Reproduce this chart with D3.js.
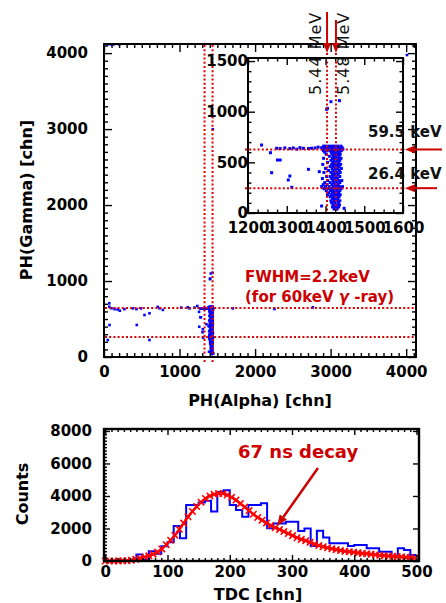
<!DOCTYPE html>
<html>
<head>
<meta charset="utf-8">
<script src="https://cdn.jsdelivr.net/npm/d3@7"></script>
<style>
body { margin: 0; background: #fff; }
svg { display: block; }
</style>
</head>
<body>
<svg id="chart" width="446" height="603"></svg>
<script>
// ---- scatter data: PH(Alpha), PH(Gamma) [chn]
const scatterPoints = [
    [46, 4115], [90, 4115], [130, 4115], [200, 4115], [4010, 3975],
    [70, 707], [70, 662], [100, 641], [140, 630], [180, 625], [210, 610], [270, 630],
    [73, 421], [50, 224], [380, 640], [430, 630], [490, 640], [536, 553], [602, 575],
    [434, 421], [602, 224], [712, 660], [735, 640], [779, 620], [1022, 650], [1110, 655],
    [1132, 640], [1198, 650], [1440, 2997], [1705, 640], [2257, 632], [2764, 654],
    [1235, 671], [1258, 595], [1274, 639], [1283, 636], [1295, 642], [1308, 636],
    [1317, 642], [1326, 630], [1334, 645], [1343, 639], [1356, 636], [1364, 639],
    [1373, 642], [1381, 650], [1276, 523], [1283, 523], [1261, 398], [1308, 365],
    [1304, 326], [1313, 254], [1356, 431], [1384, 408], [1390, 69], [1405, 1033],
    [1414, 1099], [1436, 1109], [1448, 46], [1403, 1024]
];
// dense alpha band, one row per gamma level
const bandRows = [
    [660, [1395, 1402, 1410, 1418, 1425, 1432, 1440]],
    [645, [1390, 1398, 1405, 1412, 1420, 1428, 1435, 1443]],
    [630, [1392, 1400, 1408, 1415, 1422, 1430, 1437, 1445]],
    [615, [1395, 1404, 1412, 1419, 1427, 1434, 1441]],
    [600, [1398, 1415, 1421, 1428, 1436]],
    [580, [1402, 1417, 1424, 1431, 1438]],
    [560, [1410, 1420, 1427, 1435]],
    [540, [1395, 1418, 1425, 1433, 1440]],
    [520, [1414, 1422, 1430, 1437]],
    [500, [1405, 1419, 1426, 1434]],
    [480, [1393, 1416, 1423, 1431, 1439]],
    [460, [1412, 1420, 1428, 1435]],
    [440, [1400, 1417, 1425, 1432, 1441]],
    [420, [1408, 1419, 1427, 1436]],
    [400, [1396, 1414, 1422, 1430, 1438]],
    [380, [1418, 1425, 1433]],
    [360, [1403, 1412, 1420, 1428, 1437]],
    [340, [1392, 1416, 1424, 1431]],
    [320, [1406, 1419, 1427, 1435, 1442]],
    [300, [1398, 1412, 1421, 1429, 1437]],
    [280, [1394, 1404, 1417, 1425, 1433]],
    [260, [1390, 1400, 1410, 1420, 1428, 1436, 1444]],
    [240, [1396, 1408, 1416, 1424, 1432, 1440]],
    [220, [1402, 1413, 1421, 1429, 1437]],
    [200, [1408, 1418, 1426, 1434]],
    [180, [1405, 1415, 1423, 1431, 1438]],
    [160, [1412, 1420, 1428, 1435]],
    [140, [1418, 1425, 1432]],
    [120, [1414, 1422, 1430, 1437]],
    [100, [1416, 1424, 1433]],
    [80, [1420, 1428, 1436]],
    [60, [1418, 1426, 1434]],
    [40, [1422, 1430]]
];
const mainAlphaLines = [1331, 1437];
const mainGammaLines = [645, 263];
const insetAlphaLines = [1404, 1427];
const insetGammaLines = [627, 245];
const alphaLabels = ['5.44 MeV', '5.48 MeV'];
const gammaLabels = ['59.5 keV', '26.4 keV'];

// ---- TDC histogram (bin start, width 10)
const tdcBins = [0, 10, 20, 30, 40, 50, 60, 70, 80, 90, 100, 110, 120, 130, 140, 150, 160, 170, 180, 190,
    200, 210, 220, 230, 240, 250, 260, 270, 280, 290, 300, 310, 320, 330, 340, 350, 360, 370, 380, 390,
    400, 410, 420, 430, 440, 450, 460, 470, 480, 490];
const tdcCounts = [0, 0, 0, 20, 50, 400, 80, 600, 450, 900, 1150, 2150, 1400, 3450, 3450, 3600, 3700, 3050, 4250, 4350,
    3450, 3130, 2720, 3440, 3440, 3560, 2020, 2310, 2310, 2410, 2410, 1840, 2000, 920, 1860, 1450, 1090, 1090, 1090, 920,
    980, 980, 780, 780, 570, 570, 260, 780, 680, 370];
// fit curve
const fitTdc = [0, 7, 14, 21, 28, 35, 42, 49, 56, 63, 70, 77, 84, 91, 98, 105, 112, 119, 126, 133, 140, 147, 154, 161,
    168, 175, 182, 189, 196, 203, 210, 217, 224, 231, 238, 245, 252, 259, 266, 273, 280, 287, 294, 301, 308, 315,
    322, 329, 336, 343, 350, 357, 364, 371, 378, 385, 392, 399, 406, 413, 420, 427, 434, 441, 448, 455, 462, 469,
    476, 483, 490, 497];
const fitCounts = [0, 0, 0, 5, 10, 20, 50, 100, 170, 240, 320, 420, 560, 740, 1000, 1280, 1580, 1950, 2330, 2720, 3050,
    3350, 3620, 3850, 4000, 4100, 4150, 4150, 4060, 3920, 3750, 3530, 3320, 3100, 2880, 2680, 2510, 2340, 2190, 2050,
    1940, 1810, 1690, 1560, 1430, 1330, 1250, 1150, 1040, 950, 880, 810, 750, 700, 650, 600, 570, 540, 500, 470, 440,
    410, 380, 350, 330, 310, 290, 270, 250, 230, 210, 190];

const FONT = 'DejaVu Sans, Verdana, sans-serif';
const RED = '#cc0000';
const svg = d3.select('#chart');

const allPoints = scatterPoints.concat(
    bandRows.flatMap(([g, xs]) => xs.map(a => [a, g])));

function drawTicks(scale, orient, pos, values, len, pad, labelled, fontSize) {
    const maker = { bottom: d3.axisBottom, top: d3.axisTop, left: d3.axisLeft, right: d3.axisRight }[orient];
    const ax = maker(scale).tickValues(values).tickSize(-len).tickPadding(pad)
        .tickFormat(labelled ? d3.format('d') : '');
    const tr = (orient === 'bottom' || orient === 'top') ? `translate(0,${pos})` : `translate(${pos},0)`;
    const g = svg.append('g').attr('transform', tr).call(ax);
    g.select('.domain').remove();
    g.selectAll('line').attr('stroke', '#000').attr('stroke-width', 1.4);
    g.selectAll('text')
        .attr('font-family', FONT)
        .attr('font-size', fontSize || 15)
        .attr('font-weight', 'bold')
        .attr('fill', '#000');
    return g;
}

function dotted(x1, y1, x2, y2) {
    svg.append('line')
        .attr('x1', x1).attr('y1', y1).attr('x2', x2).attr('y2', y2)
        .attr('stroke', '#dd0000')
        .attr('stroke-width', 2)
        .attr('stroke-dasharray', '2,2.2');
}

function arrow(x1, y1, x2, y2, w, head) {
    const ang = Math.atan2(y2 - y1, x2 - x1);
    const bx = x2 - head * Math.cos(ang);
    const by = y2 - head * Math.sin(ang);
    svg.append('line')
        .attr('x1', x1).attr('y1', y1).attr('x2', bx).attr('y2', by)
        .attr('stroke', RED).attr('stroke-width', w);
    const px = Math.sin(ang) * head * 0.4;
    const py = -Math.cos(ang) * head * 0.4;
    svg.append('path')
        .attr('d', `M${x2},${y2}L${bx + px},${by + py}L${bx - px},${by - py}Z`)
        .attr('fill', RED);
}

// ================= main scatter =================
const mx = d3.scaleLinear().domain([0, 4130]).range([104, 416]);
const my = d3.scaleLinear().domain([0, 4120]).range([357, 44]);

svg.append('clipPath').attr('id', 'mainClip')
    .append('rect').attr('x', 104).attr('y', 44).attr('width', 312).attr('height', 313);

svg.append('g').attr('clip-path', 'url(#mainClip)')
    .selectAll('rect')
    .data(allPoints)
    .enter()
    .append('rect')
    .attr('x', d => mx(d[0]) - 1.3)
    .attr('y', d => my(d[1]) - 1.3)
    .attr('width', 2.6)
    .attr('height', 2.6)
    .attr('fill', '#0000ff');

mainAlphaLines.forEach(a => dotted(mx(a), 45, mx(a), 362));
mainGammaLines.forEach(g => dotted(105, my(g), 415, my(g)));

const mMajor = d3.range(0, 4001, 1000);
const mMinor = d3.range(0, 4101, 100).filter(v => v % 1000);
drawTicks(mx, 'bottom', 357, mMajor, 8, 9, true);
drawTicks(mx, 'bottom', 357, mMinor, 4, 9, false);
drawTicks(mx, 'top', 44, mMajor, 8, 9, false);
drawTicks(mx, 'top', 44, mMinor, 4, 9, false);
drawTicks(my, 'left', 104, mMajor, 8, 16, true);
drawTicks(my, 'left', 104, mMinor, 4, 16, false);
drawTicks(my, 'right', 416, mMajor, 8, 9, false);
drawTicks(my, 'right', 416, mMinor, 4, 9, false);

svg.append('rect')
    .attr('x', 104).attr('y', 44).attr('width', 312).attr('height', 313)
    .attr('fill', 'none').attr('stroke', '#000').attr('stroke-width', 2);

svg.append('text')
    .attr('x', 260).attr('y', 406)
    .attr('text-anchor', 'middle')
    .attr('font-family', FONT).attr('font-size', 16).attr('font-weight', 'bold')
    .text('PH(Alpha) [chn]');

svg.append('text')
    .attr('transform', 'translate(26,200) rotate(-90)')
    .attr('text-anchor', 'middle')
    .attr('dominant-baseline', 'central')
    .attr('font-family', FONT).attr('font-size', 16).attr('font-weight', 'bold')
    .text('PH(Gamma) [chn]');

// FWHM note
const fw = svg.append('g')
    .attr('font-family', FONT).attr('font-size', 15).attr('font-weight', 'bold')
    .attr('fill', RED);
fw.append('text').attr('x', 245).attr('y', 282).text('FWHM=2.2keV');
const fw2 = fw.append('text').attr('x', 245).attr('y', 302);
fw2.append('tspan').text('(for 60keV ');
fw2.append('tspan').attr('font-style', 'italic').text('γ');
fw2.append('tspan').text(' -ray)');

// ================= inset =================
const ix = d3.scaleLinear().domain([1200, 1600]).range([248, 403]);
const iy = d3.scaleLinear().domain([0, 1530]).range([213, 58]);

svg.append('rect')
    .attr('x', 248).attr('y', 58).attr('width', 155).attr('height', 155)
    .attr('fill', '#fff');

svg.append('clipPath').attr('id', 'insetClip')
    .append('rect').attr('x', 248).attr('y', 58).attr('width', 155).attr('height', 155);

svg.append('g').attr('clip-path', 'url(#insetClip)')
    .selectAll('rect')
    .data(allPoints.filter(d => d[0] >= 1200 && d[0] <= 1600 && d[1] <= 1530))
    .enter()
    .append('rect')
    .attr('x', d => ix(d[0]) - 1.5)
    .attr('y', d => iy(d[1]) - 1.5)
    .attr('width', 3)
    .attr('height', 3)
    .attr('fill', '#0000ff');

insetAlphaLines.forEach(a => dotted(ix(a), 53, ix(a), 214));
insetGammaLines.forEach(g => dotted(245, iy(g), 405, iy(g)));

const iMajorX = d3.range(1200, 1601, 100);
const iMinorX = d3.range(1200, 1601, 25).filter(v => v % 100);
const iMajorY = d3.range(0, 1501, 500);
const iMinorY = d3.range(0, 1501, 100).filter(v => v % 500);
drawTicks(ix, 'bottom', 213, iMajorX, 7, 9, true);
drawTicks(ix, 'bottom', 213, iMinorX, 3.5, 9, false);
drawTicks(ix, 'top', 58, iMajorX, 7, 9, false);
drawTicks(ix, 'top', 58, iMinorX, 3.5, 9, false);
drawTicks(iy, 'left', 248, iMajorY, 7, 0, true);
drawTicks(iy, 'left', 248, iMinorY, 3.5, 0, false);
drawTicks(iy, 'right', 403, iMajorY, 7, 9, false);
drawTicks(iy, 'right', 403, iMinorY, 3.5, 9, false);

svg.append('rect')
    .attr('x', 248).attr('y', 58).attr('width', 155).attr('height', 155)
    .attr('fill', 'none').attr('stroke', '#000').attr('stroke-width', 2);

// energy arrows
arrow(ix(insetAlphaLines[0]), 12, ix(insetAlphaLines[0]), 53, 2, 10);
arrow(ix(insetAlphaLines[1]), 20, ix(insetAlphaLines[1]), 53, 2, 10);
const alphaLabelX = [321, 349];
alphaLabels.forEach((t, i) => {
    svg.append('text')
        .attr('transform', `translate(${alphaLabelX[i]},95) rotate(-90)`)
        .attr('font-family', FONT).attr('font-size', 16)
        .attr('letter-spacing', 1)
        .attr('fill', '#111')
        .text(t);
});
const gammaArrowStart = [442, 437];
insetGammaLines.forEach((g, i) => {
    arrow(gammaArrowStart[i], iy(g), 405, iy(g), 2, 10);
});
const gammaLabelY = [137, 179];
gammaLabels.forEach((t, i) => {
    svg.append('text')
        .attr('x', 368).attr('y', gammaLabelY[i])
        .attr('font-family', FONT).attr('font-size', 15).attr('font-weight', 'bold')
        .attr('fill', '#111')
        .text(t);
});

// ================= TDC histogram =================
const bx = d3.scaleLinear().domain([-2, 504]).range([104, 419]);
const by = d3.scaleLinear().domain([0, 8120]).range([561, 429]);

const stepPts = tdcBins.map((b, i) => [b, tdcCounts[i]]);
stepPts.push([tdcBins[tdcBins.length - 1] + 10, tdcCounts[tdcCounts.length - 1]]);
svg.append('path')
    .attr('d', d3.line().x(d => bx(d[0])).y(d => by(d[1])).curve(d3.curveStepAfter)(stepPts))
    .attr('fill', 'none')
    .attr('stroke', '#0000ff')
    .attr('stroke-width', 2);

const fitPts = fitTdc.map((t, i) => [t, fitCounts[i]]);
svg.append('path')
    .attr('d', d3.line().x(d => bx(d[0])).y(d => by(d[1])).curve(d3.curveMonotoneX)(fitPts))
    .attr('fill', 'none')
    .attr('stroke', '#ff0000')
    .attr('stroke-width', 2.5);

svg.append('g')
    .selectAll('path')
    .data(fitPts)
    .enter()
    .append('path')
    .attr('d', d => {
        const x = bx(d[0]);
        const y = by(d[1]);
        const s = 3.2;
        return `M${x - s},${y - s}L${x + s},${y + s}M${x - s},${y + s}L${x + s},${y - s}`;
    })
    .attr('stroke', '#ff0000')
    .attr('stroke-width', 1.6);

const bMajorX = d3.range(0, 501, 100);
const bMinorX = d3.range(0, 501, 10).filter(v => v % 100);
const bMajorY = d3.range(0, 8001, 2000);
const bMinorY = d3.range(0, 8001, 200).filter(v => v % 2000);
drawTicks(bx, 'bottom', 561, bMajorX, 6, 5, true);
drawTicks(bx, 'bottom', 561, bMinorX, 3, 5, false);
drawTicks(bx, 'top', 429, bMajorX, 6, 5, false);
drawTicks(bx, 'top', 429, bMinorX, 3, 5, false);
drawTicks(by, 'left', 104, bMajorY, 6, 12, true);
drawTicks(by, 'left', 104, bMinorY, 3, 12, false);
drawTicks(by, 'right', 419, bMajorY, 6, 9, false);

svg.append('rect')
    .attr('x', 104).attr('y', 429).attr('width', 315).attr('height', 132)
    .attr('fill', 'none').attr('stroke', '#000').attr('stroke-width', 2.4);

svg.append('text')
    .attr('x', 238).attr('y', 458)
    .attr('font-family', FONT).attr('font-size', 18).attr('font-weight', 'bold')
    .attr('fill', RED)
    .text('67 ns decay');
arrow(318, 468, 277, 526, 2.5, 11);

svg.append('text')
    .attr('x', 258).attr('y', 600)
    .attr('text-anchor', 'middle')
    .attr('font-family', FONT).attr('font-size', 16).attr('font-weight', 'bold')
    .text('TDC [chn]');

svg.append('text')
    .attr('transform', 'translate(22,494) rotate(-90)')
    .attr('text-anchor', 'middle')
    .attr('dominant-baseline', 'central')
    .attr('font-family', FONT).attr('font-size', 16).attr('font-weight', 'bold')
    .text('Counts');
</script>
</body>
</html>
